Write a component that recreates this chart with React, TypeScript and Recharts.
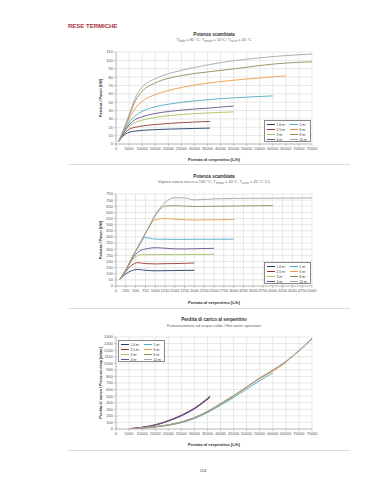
import React from "react";
import { CartesianGrid, Line, LineChart, XAxis, YAxis } from "recharts";

// surfaces of the coils
const sizes = ["1,6 m²", "2,5 m²", "3 m²", "4 m²", "5 m²", "6 m²", "8 m²", "10 m²"];
const colors = ["#1f3a6b", "#953735", "#a9c25d", "#6b4f8e", "#4bacc6", "#f39a4a", "#948a54", "#a6a6a6"];

// chart 1 - hot water 80 °C, [flow L/h, kW]
const water16 = [[1000, 3], [2500, 9], [5000, 14], [7500, 15.5], [10000, 16.3], [15000, 17.2], [20000, 17.8], [25000, 18.2], [30000, 18.6], [36000, 19]];
const water25 = [[1000, 3], [2500, 10], [5000, 17.5], [7500, 20], [10000, 21.5], [15000, 23.3], [20000, 24.5], [25000, 25.5], [30000, 26.3], [36000, 27]];
const water3 = [[1000, 3], [2500, 11], [5000, 21], [7500, 26], [10000, 28.5], [15000, 31.8], [20000, 33.8], [25000, 35.2], [30000, 36.3], [36000, 37.2], [40000, 37.8], [45000, 38.4]];
const water4 = [[1000, 3], [2500, 11.5], [5000, 23], [7500, 29.5], [10000, 32.5], [15000, 36.5], [20000, 38.8], [25000, 40.5], [30000, 41.8], [36000, 43], [40000, 44.2], [45000, 45.4]];
const water5 = [[1000, 3], [2500, 12], [5000, 26], [7500, 34], [10000, 39], [15000, 44.5], [20000, 47.5], [25000, 49.8], [30000, 51.5], [36000, 53.2], [40000, 54.2], [45000, 55.2], [50000, 56], [55000, 56.8], [60000, 57.5]];
const water6 = [[1000, 3], [2500, 13], [5000, 30], [7500, 43], [10000, 51], [15000, 59], [20000, 64], [25000, 67.5], [30000, 70.5], [36000, 73], [40000, 74.6], [45000, 76.2], [50000, 77.6], [55000, 79], [60000, 80.3], [65000, 81.5]];
const water8 = [[1000, 3], [2500, 13.5], [5000, 33], [7500, 52], [10000, 63], [15000, 73], [20000, 78.5], [25000, 81.8], [30000, 84.3], [36000, 86.5], [40000, 88], [45000, 89.8], [50000, 91.8], [55000, 93.8], [60000, 95.5], [65000, 96.8], [70000, 97.7], [75000, 98.3]];
const water10 = [[1000, 3], [2500, 14], [5000, 35], [7500, 56], [10000, 68], [15000, 78], [20000, 84], [25000, 88], [30000, 91.5], [36000, 95], [40000, 97.3], [45000, 99.5], [50000, 101.3], [55000, 103], [60000, 104.5], [65000, 105.7], [70000, 106.7], [75000, 107.5]];

// chart 2 - dry saturated steam 130 °C, [flow L/h, kW]
const steam16 = [[100, 55], [250, 98], [400, 125], [550, 135], [750, 128], [1000, 124], [1250, 125], [1500, 126], [1750, 127], [2000, 128]];
const steam25 = [[100, 55], [250, 118], [400, 170], [550, 190], [750, 183], [1000, 180], [1250, 182], [1500, 183], [1750, 185], [2000, 188]];
const steam3 = [[100, 55], [250, 128], [400, 205], [550, 248], [650, 256], [1000, 256], [1500, 256], [2000, 257], [2500, 258]];
const steam4 = [[100, 55], [250, 128], [400, 215], [600, 285], [800, 305], [1000, 312], [1250, 308], [1500, 303], [1750, 302], [2000, 304], [2500, 307]];
const steam5 = [[100, 55], [250, 130], [400, 222], [600, 335], [750, 395], [850, 392], [1000, 382], [1500, 380], [2000, 381], [2500, 381], [3000, 382]];
const steam6 = [[100, 55], [250, 132], [400, 225], [600, 340], [800, 455], [1000, 540], [1250, 550], [1500, 545], [2000, 538], [2500, 540], [3000, 542]];
const steam8 = [[100, 55], [250, 132], [400, 226], [600, 342], [800, 458], [1000, 572], [1250, 652], [1500, 655], [2000, 648], [2500, 650], [3000, 652], [3500, 654], [4000, 656]];
const steam10 = [[100, 55], [250, 132], [400, 226], [600, 342], [800, 458], [1000, 580], [1250, 680], [1500, 720], [1750, 718], [2000, 702], [2500, 710], [3000, 714], [4000, 716], [5000, 718]];

// chart 3 - pressure drop, [flow L/h, mbar]
const drop16 = [[5000, 4], [10000, 24], [15000, 60], [20000, 120], [25000, 200], [30000, 305], [36000, 482]];
const drop25 = [[5000, 5], [10000, 26], [15000, 64], [20000, 127], [25000, 210], [30000, 318], [36000, 500]];
const drop3 = [[5000, 2], [10000, 14], [15000, 34], [20000, 60], [25000, 102], [30000, 166], [36000, 280], [40000, 372], [45000, 492]];
const drop4 = [[5000, 5], [10000, 25], [15000, 62], [20000, 124], [25000, 206], [30000, 312], [36000, 492]];
const drop5 = [[5000, 1], [10000, 12], [15000, 30], [20000, 55], [25000, 96], [30000, 158], [36000, 270], [40000, 360], [45000, 478], [50000, 605], [55000, 735], [60000, 855]];
const drop6 = [[5000, 2], [10000, 15], [15000, 35], [20000, 62], [25000, 105], [30000, 170], [36000, 285], [40000, 380], [45000, 500], [50000, 630], [55000, 765], [60000, 880], [65000, 1010]];
const drop8 = [[5000, 2], [10000, 15], [15000, 36], [20000, 63], [25000, 107], [30000, 172], [36000, 288], [40000, 385], [45000, 505], [50000, 636], [55000, 772], [60000, 890], [65000, 1020], [70000, 1185], [75000, 1370]];
const drop10 = [[5000, 2], [10000, 16], [15000, 37], [20000, 65], [25000, 110], [30000, 176], [36000, 292], [40000, 390], [45000, 512], [50000, 645], [55000, 780], [60000, 900], [65000, 1032], [70000, 1198], [75000, 1385]];

// ticks
const flowTicks = [0, 5000, 10000, 15000, 20000, 25000, 30000, 35000, 40000, 45000, 50000, 55000, 60000, 65000, 70000, 75000];
const steamFlowTicks = [0, 250, 500, 750, 1000, 1250, 1500, 1750, 2000, 2250, 2500, 2750, 3000, 3250, 3500, 3750, 4000, 4250, 4500, 4750, 5000];
const waterPowerTicks = [0, 10, 20, 30, 40, 50, 60, 70, 80, 90, 100, 110];
const steamPowerTicks = [0, 50, 100, 150, 200, 250, 300, 350, 400, 450, 500, 550, 600, 650, 700, 750];
const dropTicks = [0, 100, 200, 300, 400, 500, 600, 700, 800, 900, 1000, 1100, 1200, 1300, 1400];

const font = "'Liberation Sans', Arial, sans-serif";
const toPts = (arr: number[][]) => arr.map(([x, y]) => ({ x, y }));

function Plot({ top, series, xTicks, yTicks }: { top: number; series: number[][][]; xTicks: number[]; yTicks: number[] }) {
  const tick = { fontSize: 4, fill: "#555", fontFamily: font };
  return (
    <div style={{ position: "absolute", left: 0, top: top - 6 }}>
      <LineChart width={374} height={112} margin={{ top: 6, right: 62, bottom: 4, left: 96 }}>
        <CartesianGrid stroke="#d9d9d9" strokeWidth={0.6} />
        <XAxis
          type="number"
          dataKey="x"
          domain={[xTicks[0], xTicks[xTicks.length - 1]]}
          ticks={xTicks}
          interval={0}
          height={10}
          tick={tick}
          tickSize={2}
          tickMargin={1}
          stroke="#a0a0a0"
          strokeWidth={0.6}
          allowDataOverflow
        />
        <YAxis
          type="number"
          domain={[yTicks[0], yTicks[yTicks.length - 1]]}
          ticks={yTicks}
          interval={0}
          width={20}
          tick={tick}
          tickSize={2}
          tickMargin={1}
          stroke="#a0a0a0"
          strokeWidth={0.6}
          allowDataOverflow
        />
        {series.map((s, i) => (
          <Line
            key={sizes[i]}
            data={toPts(s)}
            dataKey="y"
            type="monotone"
            stroke={colors[i]}
            strokeWidth={0.9}
            dot={false}
            isAnimationActive={false}
          />
        ))}
      </LineChart>
    </div>
  );
}

function SizeLegend({ left, top }: { left: number; top: number }) {
  return (
    <div
      style={{
        position: "absolute",
        left,
        top,
        width: 47,
        height: 22,
        border: "0.6px solid #888",
        background: "#fff",
        boxSizing: "border-box",
      }}
    >
      {sizes.map((s, i) => (
        <div
          key={s}
          style={{
            position: "absolute",
            left: i < 4 ? 2 : 25,
            top: 1.5 + (i % 4) * 5,
            display: "flex",
            alignItems: "center",
            height: 4,
            fontSize: 3.2,
            color: "#333",
            whiteSpace: "nowrap",
          }}
        >
          <span style={{ display: "inline-block", width: 8, height: 1, background: colors[i], marginRight: 1.5 }} />
          {s}
        </div>
      ))}
    </div>
  );
}

const center = (x: number, y: number): React.CSSProperties => ({
  position: "absolute",
  left: x,
  top: y,
  transform: "translate(-50%, -50%)",
  whiteSpace: "nowrap",
});

function Sub({ children }: { children: React.ReactNode }) {
  return <span style={{ fontSize: 2.6, verticalAlign: "-1px" }}>{children}</span>;
}

export default function App() {
  return (
    <div
      style={{
        position: "absolute",
        left: 0,
        top: 0,
        width: 374,
        height: 480,
        background: "#fff",
        fontFamily: font,
        overflow: "hidden",
        color: "#333",
      }}
    >
      <div style={{ position: "absolute", left: 68, top: 23, fontSize: 6, fontWeight: 700, color: "#a8323a" }}>
        RESE TERMICHE
      </div>

      {/* chart 1 */}
      <div style={{ ...center(214, 34), fontSize: 4.6, fontWeight: 700 }}>Potenza scambiata</div>
      <div style={{ ...center(214, 39.5), fontSize: 4, color: "#666" }}>
        T<Sub>fluido</Sub> = 80 °C; T<Sub>entrata</Sub> = 10°C; T<Sub>uscita</Sub> = 45 °C
      </div>
      <Plot
        top={52}
        series={[water16, water25, water3, water4, water5, water6, water8, water10]}
        xTicks={flowTicks}
        yTicks={waterPowerTicks}
      />
      <div style={{ ...center(101, 98), transform: "translate(-50%, -50%) rotate(-90deg)", fontSize: 3.8, fontWeight: 700 }}>
        Potenza / Power [kW]
      </div>
      <div style={{ ...center(214, 158.5), fontSize: 4.2, fontWeight: 700 }}>Portata al serpentino [L/h]</div>
      <SizeLegend left={264} top={120} />
      <div style={{ position: "absolute", left: 68, top: 164, width: 282, height: 1, background: "#dcdcdc" }} />

      {/* chart 2 */}
      <div style={{ ...center(214, 175.7), fontSize: 4.6, fontWeight: 700 }}>Potenza scambiata</div>
      <div style={{ ...center(214, 181.5), fontSize: 4, color: "#666" }}>
        Vapore saturo secco a 130 °C; T<Sub>entrata</Sub> = 10°C, T<Sub>uscita</Sub> = 45 °C 1,5
      </div>
      <Plot
        top={194}
        series={[steam16, steam25, steam3, steam4, steam5, steam6, steam8, steam10]}
        xTicks={steamFlowTicks}
        yTicks={steamPowerTicks}
      />
      <div style={{ ...center(101, 240), transform: "translate(-50%, -50%) rotate(-90deg)", fontSize: 3.8, fontWeight: 700 }}>
        Potenza / Power [kW]
      </div>
      <div style={{ ...center(214, 302), fontSize: 4.2, fontWeight: 700 }}>Portata al serpentino [L/h]</div>
      <SizeLegend left={264} top={262} />
      <div style={{ position: "absolute", left: 68, top: 308, width: 282, height: 1, background: "#dcdcdc" }} />

      {/* chart 3 */}
      <div style={{ ...center(214, 319), fontSize: 4.6, fontWeight: 700 }}>Perdita di carico al serpentino</div>
      <div style={{ ...center(214, 324.7), fontSize: 4, color: "#666" }}>
        Funzionamento ad acqua calda / Hot water operation
      </div>
      <Plot
        top={337}
        series={[drop16, drop25, drop3, drop4, drop5, drop6, drop8, drop10]}
        xTicks={flowTicks}
        yTicks={dropTicks}
      />
      <div style={{ ...center(101, 383), transform: "translate(-50%, -50%) rotate(-90deg)", fontSize: 3.8, fontWeight: 700 }}>
        Perdita di carico / Pressure drop [mbar]
      </div>
      <div style={{ ...center(214, 444), fontSize: 4.2, fontWeight: 700 }}>Portata al serpentino [L/h]</div>
      <SizeLegend left={118} top={340} />
      <div style={{ position: "absolute", left: 68, top: 450, width: 282, height: 1, background: "#dcdcdc" }} />

      <div style={{ ...center(203, 470), fontSize: 4 }}>114</div>
    </div>
  );
}
